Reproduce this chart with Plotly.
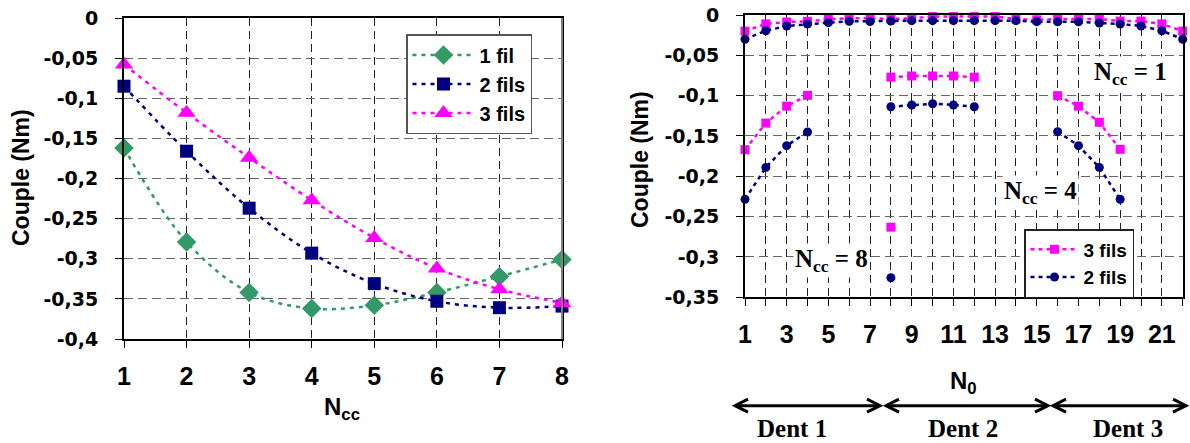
import plotly.graph_objects as go

# ---------------- data: left chart ----------------
ncc = [1, 2, 3, 4, 5, 6, 7, 8]
fil1 = [-0.162, -0.279, -0.342, -0.362, -0.358, -0.342, -0.322, -0.301]
fils2 = [-0.085, -0.166, -0.237, -0.293, -0.331, -0.353, -0.361, -0.359]
fils3 = [-0.058, -0.118, -0.174, -0.227, -0.274, -0.312, -0.338, -0.355]

# ---------------- data: right chart ----------------
n0 = list(range(1, 23))
f3_ncc1 = [-0.020, -0.011, -0.0087, -0.0078, -0.0054, -0.0041, -0.004, -0.005, -0.004, -0.002, -0.002,
           -0.002, -0.002, -0.005, -0.006, -0.005, -0.005, -0.005, -0.0075, -0.0075, -0.011, -0.020]
f2_ncc1 = [-0.030, -0.0195, -0.0136, -0.0112, -0.0095, -0.0079, -0.008, -0.0074, -0.007, -0.007, -0.007,
           -0.007, -0.007, -0.007, -0.0083, -0.0085, -0.0085, -0.0099, -0.0112, -0.0136, -0.0195, -0.030]
n0_ncc4 = [1, 2, 3, 4, None, 8, 9, 10, 11, 12, None, 16, 17, 18, 19]
f3_ncc4 = [-0.167, -0.134, -0.113, -0.0996, None, -0.077, -0.0756, -0.0756, -0.0756, -0.077, None,
           -0.100, -0.113, -0.133, -0.1665]
f2_ncc4 = [-0.2285, -0.189, -0.162, -0.145, None, -0.1137, -0.1116, -0.110, -0.1116, -0.1137, None,
           -0.1446, -0.162, -0.189, -0.2285]
n0_ncc8 = [8]
f3_ncc8 = [-0.263]
f2_ncc8 = [-0.3257]

# ---------------- tick labels ----------------
left_yvals = [0, -0.05, -0.1, -0.15, -0.2, -0.25, -0.3, -0.35, -0.4]
left_ytext = ["0", "-0,05", "-0,1", "-0,15", "-0,2", "-0,25", "-0,3", "-0,35", "-0,4"]
right_yvals = [0, -0.05, -0.1, -0.15, -0.2, -0.25, -0.3, -0.35]
right_ytext = ["0", "-0,05", "-0,1", "-0,15", "-0,2", "-0,25", "-0,3", "-0,35"]
right_xvals = [1, 3, 5, 7, 9, 11, 13, 15, 17, 19, 21]
right_xtext = ["1", "3", "5", "7", "9", "11", "13", "15", "17", "19", "21"]

GREEN = "#339966"
NAVY = "#000080"
MAGENTA = "#FF00FF"
SANS = "Liberation Sans"
WIDE = "DejaVu Sans"
SERIF = "Liberation Serif"
W, H = 1190, 443


def b(s):
    return "<b>" + s + "</b>"


def px(x):
    return x / W


def py(y):
    return 1 - y / H


fig = go.Figure()

# left chart traces
for yv, nm, col, sym, sz in [(fil1, "1 fil", GREEN, "diamond", 15),
                             (fils2, "2 fils", NAVY, "square", 13),
                             (fils3, "3 fils", MAGENTA, "triangle-up", 16)]:
    fig.add_trace(go.Scatter(x=ncc, y=yv, name=b(nm), mode="lines+markers", cliponaxis=False,
                             line=dict(color=col, width=2.5, dash="4px,5px", shape="spline", smoothing=1),
                             marker=dict(symbol=sym, size=sz, color=col),
                             xaxis="x", yaxis="y", legend="legend"))


# right chart traces
def rtrace(x, y, color, symbol, name, show):
    return go.Scatter(x=x, y=y, name=b(name), mode="lines+markers", showlegend=show,
                      legendgroup=name, connectgaps=False, cliponaxis=False,
                      line=dict(color=color, width=2.5, dash="4px,4px"),
                      marker=dict(symbol=symbol, size=9, color=color),
                      xaxis="x2", yaxis="y2", legend="legend2")


fig.add_trace(rtrace(n0, f3_ncc1, MAGENTA, "square", "3 fils", True))
fig.add_trace(rtrace(n0_ncc4, f3_ncc4, MAGENTA, "square", "3 fils", False))
fig.add_trace(rtrace(n0_ncc8, f3_ncc8, MAGENTA, "square", "3 fils", False))
fig.add_trace(rtrace(n0, f2_ncc1, NAVY, "circle", "2 fils", True))
fig.add_trace(rtrace(n0_ncc4, f2_ncc4, NAVY, "circle", "2 fils", False))
fig.add_trace(rtrace(n0_ncc8, f2_ncc8, NAVY, "circle", "2 fils", False))

tickfont_x = dict(family=SANS, size=25, color="black")
tickfont_y = dict(family=WIDE, size=19, color="black")
VGRID = dict(showgrid=True, gridcolor="#222222", griddash="8px,5px", gridwidth=1)
HGRID = dict(showgrid=True, gridcolor="#666666", griddash="9px,5px", gridwidth=1.3)
AX = dict(showline=True, linecolor="black", linewidth=2, mirror=True, zeroline=False,
          ticks="outside", ticklen=7, tickcolor="black", tickwidth=1.3, automargin=False,
          tickmode="array")

fig.update_layout(
    width=W, height=H,
    margin=dict(l=0, r=0, t=0, b=0),
    paper_bgcolor="white", plot_bgcolor="white",
    showlegend=True,
    font=dict(family=SANS, color="black"),
    xaxis=dict(domain=[px(124), px(562)], range=[1, 8], tickvals=ncc,
               ticktext=[b(str(v)) for v in ncc], tickfont=tickfont_x,
               ticklabelstandoff=7, anchor="y", **AX, **VGRID),
    yaxis=dict(domain=[py(339), py(18)], range=[-0.4, 0],
               tickvals=left_yvals, ticktext=[b(t) for t in left_ytext], tickfont=tickfont_y,
               ticklabelstandoff=13, anchor="x", **AX, **HGRID),
    xaxis2=dict(domain=[px(745), px(1182.7)], range=[1, 22], tickvals=right_xvals,
                ticktext=[b(t) for t in right_xtext], tickfont=tickfont_x,
                ticklabelstandoff=7, anchor="y2",
                minor=dict(tickmode="linear", tick0=1, dtick=1, ticks="outside", ticklen=7,
                           tickcolor="black", showgrid=True, gridcolor="#222222",
                           griddash="8px,5px", gridwidth=1),
                **AX, **VGRID),
    yaxis2=dict(domain=[py(297.3), py(15)], range=[-0.35, 0],
                tickvals=right_yvals, ticktext=[b(t) for t in right_ytext], tickfont=tickfont_y,
                ticklabelstandoff=13, anchor="x2", **AX, **HGRID),
    legend=dict(x=px(406), y=py(34), xanchor="left", yanchor="top",
                bgcolor="white", bordercolor="#555555", borderwidth=1.5,
                font=dict(family=SANS, size=20, color="black"),
                tracegroupgap=0, itemwidth=62),
    legend2=dict(x=px(1024), y=py(229), xanchor="left", yanchor="top",
                 bgcolor="white", bordercolor="#222222", borderwidth=1.5,
                 font=dict(family=SANS, size=19, color="black"),
                 tracegroupgap=0, itemwidth=48, traceorder="normal"),
)

annots = []
# axis titles
annots.append(dict(text=b("Couple (Nm)"), x=px(21), y=py(178), xref="paper", yref="paper",
                   textangle=-90, showarrow=False, xanchor="center", yanchor="middle",
                   font=dict(family=SANS, size=23, color="black")))
annots.append(dict(text=b("Couple (Nm)"), x=px(640), y=py(160), xref="paper", yref="paper",
                   textangle=-90, showarrow=False, xanchor="center", yanchor="middle",
                   font=dict(family=SANS, size=23, color="black")))
annots.append(dict(text="<b>N<sub>cc</sub></b>", x=px(342), y=py(408), xref="paper",
                   yref="paper", showarrow=False, xanchor="center", yanchor="middle",
                   font=dict(family=SANS, size=24, color="black")))
annots.append(dict(text="<b>N<sub>0</sub></b>", x=px(963), y=py(382), xref="paper",
                   yref="paper", showarrow=False, xanchor="center", yanchor="middle",
                   font=dict(family=SANS, size=24, color="black")))
# in-plot labels
for txt, x, y in [("<b>N<sub>cc</sub> = 1</b>", 1130, 74), ("<b>N<sub>cc</sub> = 4</b>", 1040, 192),
                  ("<b>N<sub>cc</sub> = 8</b>", 831, 260)]:
    annots.append(dict(text=txt, x=px(x), y=py(y), xref="paper", yref="paper",
                       showarrow=False, xanchor="center", yanchor="middle", bgcolor="white",
                       font=dict(family=SERIF, size=25, color="black")))
for txt, x in [("Dent 1", 792), ("Dent 2", 963), ("Dent 3", 1128)]:
    annots.append(dict(text=b(txt), x=px(x), y=0, xref="paper", yref="paper",
                       showarrow=False, xanchor="center", yanchor="bottom", borderpad=0,
                       font=dict(family=SERIF, size=25, color="black")))
fig.update_layout(annotations=annots)

# gray right border on left chart
fig.add_shape(type="line", xref="x domain", yref="y domain", x0=1, x1=1, y0=0, y1=1,
              line=dict(color="#808080", width=2))

# double-headed "Dent" arrows below the right chart
AY = 405.7
for x0, x1 in [(735, 880), (886, 1048), (1053, 1186)]:
    fig.add_shape(type="line", xref="paper", yref="paper", x0=px(x0 + 1), x1=px(x1 - 1),
                  y0=py(AY), y1=py(AY), line=dict(color="black", width=3))
    left_head = f"M {px(x0 + 13)},{py(AY - 6.5)} L {px(x0)},{py(AY)} L {px(x0 + 13)},{py(AY + 6.5)}"
    right_head = f"M {px(x1 - 13)},{py(AY - 6.5)} L {px(x1)},{py(AY)} L {px(x1 - 13)},{py(AY + 6.5)}"
    for p in (left_head, right_head):
        fig.add_shape(type="path", xref="paper", yref="paper", path=p,
                      line=dict(color="black", width=3))

fig.write_html("out.html", config={"displayModeBar": False},
               post_script="document.body.style.margin='0';")
